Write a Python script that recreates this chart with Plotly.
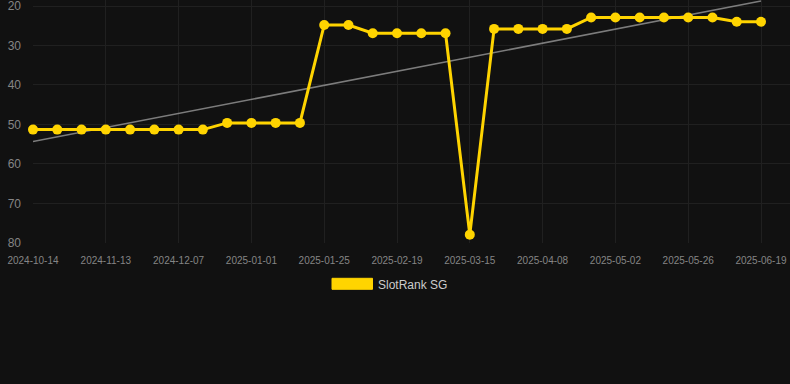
import numpy as np
import plotly.graph_objects as go

dates = [
    "2024-10-14", "2024-10-24", "2024-11-03", "2024-11-13", "2024-11-21", "2024-11-29",
    "2024-12-07", "2024-12-15", "2024-12-23", "2025-01-01", "2025-01-09", "2025-01-17",
    "2025-01-25", "2025-02-02", "2025-02-11", "2025-02-19", "2025-02-27", "2025-03-07",
    "2025-03-15", "2025-03-23", "2025-03-31", "2025-04-08", "2025-04-16", "2025-04-24",
    "2025-05-02", "2025-05-10", "2025-05-18", "2025-05-26", "2025-06-03", "2025-06-11",
    "2025-06-19",
]
rank = [
    51.3, 51.3, 51.3, 51.3, 51.3, 51.3, 51.3, 51.3,
    49.6, 49.6, 49.6, 49.6,
    24.8, 24.8,
    26.9, 26.9, 26.9, 26.9,
    77.9,
    25.8, 25.8, 25.8, 25.8,
    22.9, 22.9, 22.9, 22.9, 22.9, 22.9,
    24.0, 24.0,
]
tick_labels = dates[::3]
y_ticks = [20, 30, 40, 50, 60, 70, 80]
series_name = "SlotRank SG"

# linear trend line from the data
idx = np.arange(len(rank))
slope, intercept = np.polyfit(idx, rank, 1)
trend = [intercept, intercept + slope * (len(rank) - 1)]

GOLD = "#FFD400"
BG = "#111111"
GRID = "#202020"
TICK = "#858585"
FONT = "Liberation Sans, Arial, Helvetica, sans-serif"

fig = go.Figure()
fig.add_trace(go.Scatter(
    x=[dates[0], dates[-1]], y=trend, mode="lines",
    line=dict(color="rgba(160,160,160,0.75)", width=1.6),
    showlegend=False, hoverinfo="skip",
))
fig.add_trace(go.Scatter(
    x=dates, y=rank, mode="lines+markers", name=series_name,
    line=dict(color=GOLD, width=3),
    marker=dict(color=GOLD, size=10),
    cliponaxis=False, showlegend=False,
))

W, H = 790, 384
L, R, T, B = 33, 0, 0, 141
pw, ph = W - L - R, H - T - B

def px(x):
    return (x - L) / pw

def py(y):
    return (T + ph - y) / ph

fig.add_shape(type="rect", xref="paper", yref="paper",
              x0=px(332), x1=px(372.5), y0=py(289.3), y1=py(278.3),
              fillcolor=GOLD, line=dict(color=GOLD, width=1))
fig.add_annotation(x=px(376), y=py(284.5), xref="paper", yref="paper",
                   text=series_name, showarrow=False, xanchor="left", yanchor="middle",
                   font=dict(family=FONT, size=12, color="#cccccc"))

fig.update_layout(
    width=W, height=H,
    margin=dict(l=L, r=R, t=T, b=B, pad=0),
    paper_bgcolor=BG, plot_bgcolor=BG,
    showlegend=False,
    font=dict(family=FONT, color=TICK),
)
fig.update_xaxes(
    type="category", categoryorder="array", categoryarray=dates,
    range=[0, (len(dates) - 1) + 29 / ((761 - 33) / (len(dates) - 1))],
    tickmode="array", tickvals=tick_labels, ticktext=tick_labels,
    tickangle=0,
    showgrid=True, gridcolor=GRID, gridwidth=1,
    zeroline=False, showline=False, ticks="",
    ticklabelstandoff=10, ticklabeloverflow="allow",
    tickfont=dict(size=10, color=TICK),
)
fig.update_yaxes(
    range=[80.02, 18.48],
    tickmode="array", tickvals=y_ticks,
    showgrid=True, gridcolor=GRID, gridwidth=1,
    zeroline=False, showline=False, ticks="",
    ticklabelstandoff=11, ticklabeloverflow="allow",
    tickfont=dict(size=12, color=TICK),
)

fig.write_html(
    "out.html",
    config={"displayModeBar": False},
    post_script="document.body.style.margin='0';document.body.style.background='#111111';",
)
